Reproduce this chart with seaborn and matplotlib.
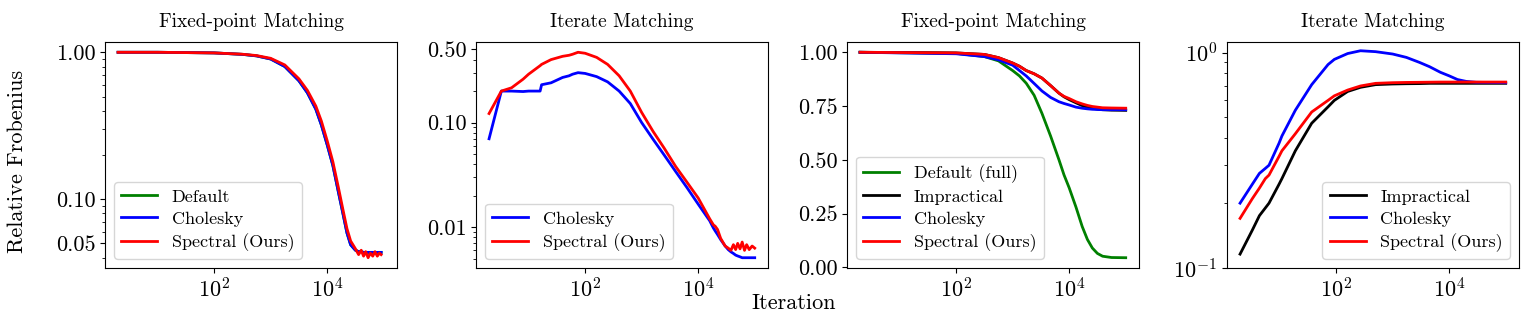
import numpy as np
import pandas as pd
import matplotlib
matplotlib.use("Agg")
import matplotlib.pyplot as plt
import matplotlib.ticker as mticker
import seaborn as sns

# Panel 1: Fixed-point Matching (log y)
p1_iter = [2, 10, 100, 316, 562, 1000, 1780, 3160, 4470, 6300, 7900, 10000, 12600, 15800,
           19000, 22400, 26000, 31600, 36000, 40000, 44000, 48000, 53000, 58000, 64000, 70000,
           77000, 84000, 90000]
p1_spectral = [1.0, 1.0, 0.99, 0.97, 0.95, 0.91, 0.82, 0.66, 0.55, 0.43, 0.34, 0.25, 0.18, 0.12,
               0.085, 0.063, 0.052, 0.046, 0.042, 0.045, 0.041, 0.044, 0.040, 0.043, 0.041, 0.044,
               0.041, 0.043, 0.042]
p1_cholesky = [1.0, 1.0, 0.99, 0.968, 0.945, 0.90, 0.80, 0.64, 0.53, 0.41, 0.32, 0.235, 0.17, 0.112,
               0.08, 0.059, 0.049, 0.045, 0.044, 0.044, 0.0435, 0.0435, 0.0435, 0.0435, 0.0435,
               0.0435, 0.0435, 0.0435, 0.0435]
p1_default = p1_cholesky

# Panel 2: Iterate Matching (log y)
p2_iter = [2, 3.3, 5, 8, 10, 16, 17, 25, 40, 52, 60, 75, 100, 160, 250, 400, 630, 1000, 1600,
           2500, 4000, 6300, 10000, 16000, 18600, 20000, 22000, 25000, 30000, 34000, 38000, 42000,
           46000, 50000, 55000, 60000, 66000, 72000, 80000, 90000, 100000]
p2_cholesky = [0.07, 0.2, 0.2, 0.198, 0.2, 0.2, 0.23, 0.24, 0.27, 0.28, 0.29, 0.30, 0.295, 0.275,
               0.245, 0.2, 0.152, 0.10, 0.069, 0.049, 0.034, 0.024, 0.0166, 0.0115, 0.0098, 0.0092,
               0.0085, 0.0076, 0.0066, 0.0061, 0.0058, 0.0056, 0.0054, 0.0053, 0.0052, 0.0051,
               0.0051, 0.0051, 0.0051, 0.0051, 0.0051]
p2_spectral = [0.122, 0.2, 0.215, 0.26, 0.29, 0.35, 0.36, 0.40, 0.43, 0.44, 0.45, 0.47, 0.46, 0.42,
               0.36, 0.28, 0.2, 0.125, 0.082, 0.057, 0.038, 0.027, 0.019, 0.012, 0.0105, 0.0102,
               0.0095, 0.0078, 0.0066, 0.0063, 0.0060, 0.0068, 0.0061, 0.0070, 0.0062, 0.0072,
               0.0060, 0.0068, 0.0061, 0.0066, 0.0063]

# Panel 3: Fixed-point Matching (linear y)
p3_iter = [2, 100, 316, 562, 1000, 1320, 1740, 2400, 3300, 4700, 6600, 8100, 10000, 13200,
           17000, 21000, 25700, 31600, 39000, 56000, 100000]
p3_default = [1.0, 0.995, 0.98, 0.96, 0.915, 0.89, 0.856, 0.80, 0.716, 0.61, 0.50, 0.43, 0.37,
              0.28, 0.19, 0.13, 0.09, 0.065, 0.052, 0.046, 0.045]
p3_impractical = [1.0, 0.997, 0.99, 0.975, 0.95, 0.935, 0.915, 0.90, 0.88, 0.845, 0.81, 0.793,
                  0.78, 0.765, 0.752, 0.745, 0.74, 0.736, 0.733, 0.731, 0.73]
p3_cholesky = [1.0, 0.993, 0.98, 0.965, 0.94, 0.915, 0.89, 0.855, 0.82, 0.79, 0.77, 0.762, 0.755,
               0.745, 0.74, 0.737, 0.735, 0.734, 0.733, 0.733, 0.733]
p3_spectral = [1.0, 0.997, 0.99, 0.975, 0.95, 0.935, 0.915, 0.90, 0.88, 0.845, 0.81, 0.795, 0.785,
               0.77, 0.76, 0.753, 0.748, 0.745, 0.742, 0.741, 0.74]

# Panel 4: Iterate Matching (log y)
p4_iter = [2, 3.3, 4.4, 5.6, 6.5, 9.8, 11, 19, 37, 72, 93, 160, 270, 500, 1000, 1750, 3000,
           4500, 7000, 10000, 14000, 20000, 30000, 100000]
p4_impractical = [0.116, 0.15, 0.175, 0.19, 0.20, 0.245, 0.26, 0.35, 0.47, 0.56, 0.60, 0.66,
                  0.69, 0.71, 0.715, 0.717, 0.718, 0.72, 0.72, 0.72, 0.72, 0.72, 0.72, 0.72]
p4_cholesky = [0.20, 0.245, 0.275, 0.29, 0.30, 0.38, 0.41, 0.54, 0.71, 0.88, 0.93, 0.99, 1.02,
               1.01, 0.985, 0.95, 0.90, 0.86, 0.81, 0.78, 0.75, 0.735, 0.728, 0.725]
p4_spectral = [0.17, 0.21, 0.235, 0.26, 0.27, 0.33, 0.35, 0.42, 0.53, 0.60, 0.63, 0.67, 0.70,
               0.72, 0.725, 0.727, 0.728, 0.729, 0.73, 0.73, 0.73, 0.73, 0.73, 0.73]

titles = ["Fixed-point Matching", "Iterate Matching", "Fixed-point Matching", "Iterate Matching"]

plt.rcParams['font.family'] = 'serif'
plt.rcParams['font.serif'] = ['cmr10', 'DejaVu Serif']
plt.rcParams['mathtext.fontset'] = 'cm'
plt.rcParams['axes.formatter.use_mathtext'] = True
plt.rcParams['axes.unicode_minus'] = False

fig = plt.figure(figsize=(15.28, 3.13), dpi=100)
lefts = [105, 476, 847, 1227]
axes = [fig.add_axes([l / 1528, 1 - 268 / 313, 292 / 1528, 226 / 313]) for l in lefts]

panels = [
    (p1_iter, [("Default", "green", p1_default), ("Cholesky", "blue", p1_cholesky),
               ("Spectral (Ours)", "red", p1_spectral)]),
    (p2_iter, [("Cholesky", "blue", p2_cholesky), ("Spectral (Ours)", "red", p2_spectral)]),
    (p3_iter, [("Default (full)", "green", p3_default), ("Impractical", "black", p3_impractical),
               ("Cholesky", "blue", p3_cholesky), ("Spectral (Ours)", "red", p3_spectral)]),
    (p4_iter, [("Impractical", "black", p4_impractical), ("Cholesky", "blue", p4_cholesky),
               ("Spectral (Ours)", "red", p4_spectral)]),
]

for i, (ax, (it, series)) in enumerate(zip(axes, panels)):
    for name, color, vals in series:
        sns.lineplot(x=it, y=vals, color=color, label=name, ax=ax, linewidth=2,
                     estimator=None, sort=False)
    ax.set_xscale("log")
    ax.set_title(titles[i], fontsize=14, pad=11)
    ax.tick_params(labelsize=16)
    ax.set_xticks([1e2, 1e4])
    ax.xaxis.set_minor_locator(mticker.NullLocator())

# y axes
axes[0].set_yscale("log")
axes[0].yaxis.set_major_locator(mticker.FixedLocator([0.05, 0.1, 1.0]))
axes[0].yaxis.set_major_formatter(mticker.FormatStrFormatter("%.2f"))
axes[0].yaxis.set_minor_formatter(mticker.NullFormatter())

axes[1].set_yscale("log")
axes[1].yaxis.set_major_locator(mticker.FixedLocator([0.01, 0.1, 0.5]))
axes[1].yaxis.set_major_formatter(mticker.FormatStrFormatter("%.2f"))
axes[1].yaxis.set_minor_formatter(mticker.NullFormatter())

axes[2].set_yticks([0.0, 0.25, 0.5, 0.75, 1.0])
axes[2].yaxis.set_major_formatter(mticker.FormatStrFormatter("%.2f"))

axes[3].set_yscale("log")
axes[3].set_ylim(0.1, 1.12)
axes[3].yaxis.set_major_locator(mticker.FixedLocator([0.1, 1.0]))
axes[3].yaxis.set_minor_formatter(mticker.NullFormatter())

for ax in axes:
    ax.set_xlim(10 ** 0.07, 10 ** 5.235)

axes[0].legend(loc="lower left", fontsize=13, labelspacing=0.35)
axes[1].legend(loc="lower left", fontsize=13, labelspacing=0.35)
axes[2].legend(loc="lower left", fontsize=13, labelspacing=0.35)
axes[3].legend(loc="lower right", fontsize=13, labelspacing=0.35)

axes[0].set_ylabel("Relative Frobenius", fontsize=16)
axes[0].yaxis.set_label_coords(-0.267, 0.47)
fig.text(794 / 1528, 0.03, "Iteration", ha="center", va="center", fontsize=16)

fig.savefig("out.png", dpi=100)
